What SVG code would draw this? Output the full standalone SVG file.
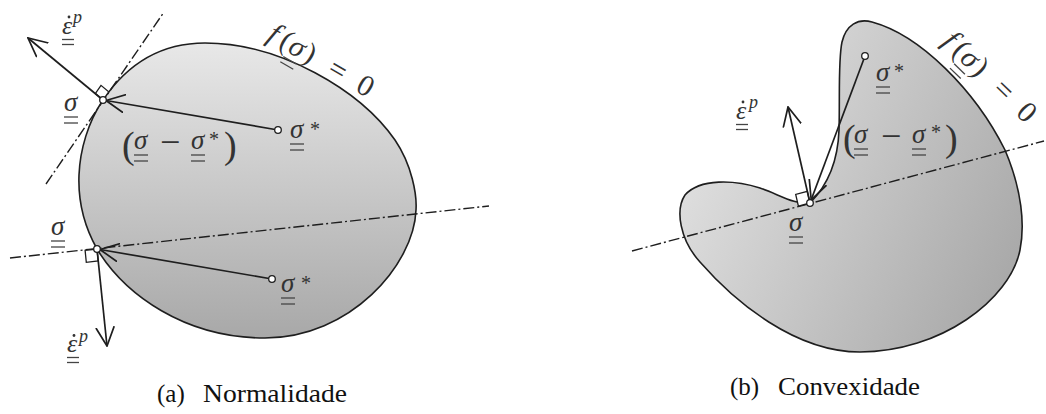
<svg xmlns="http://www.w3.org/2000/svg" width="1046" height="414" viewBox="0 0 1046 414">
<style>
.blob{stroke:#1e1e1e;stroke-width:1.6}
.dd{fill:none;stroke:#1e1e1e;stroke-width:1.4;stroke-dasharray:11 3 2 3}
.arr{fill:none;stroke:#1e1e1e;stroke-width:1.7;marker-end:url(#ah)}
.pt{fill:#fff;stroke:#1e1e1e;stroke-width:1.3}
.sq{fill:#fff;stroke:#1e1e1e;stroke-width:1.3}
.m{font-family:"Liberation Serif",serif;font-style:italic;font-size:27px;fill:#333}
.r{font-family:"Liberation Serif",serif;font-size:27px;fill:#333}
.e{font-size:26px}
.sm{font-size:18px}
.st{font-size:20px}
.mi{font-size:36px}
.big{font-size:38px}
.fx{font-size:30px}
.bar{stroke:#444;stroke-width:1.3}
.dot{fill:#333}
.cap{font-family:"Liberation Serif",serif;font-size:25px;fill:#111}
</style>
<defs>
<linearGradient id="gA" gradientUnits="userSpaceOnUse" x1="0" y1="43" x2="0" y2="338">
<stop offset="0" stop-color="#e8e8e8"/><stop offset="1" stop-color="#a8a8a8"/>
</linearGradient>
<linearGradient id="gB" gradientUnits="userSpaceOnUse" x1="690" y1="170" x2="1020" y2="330">
<stop offset="0" stop-color="#dedede"/><stop offset="1" stop-color="#a4a4a4"/>
</linearGradient>
<marker id="ah" markerUnits="userSpaceOnUse" viewBox="0 0 20 20" markerWidth="20" markerHeight="20" refX="19" refY="10" orient="auto">
<path d="M0,0.8 L19,10 L0,19.2" fill="none" stroke="#1e1e1e" stroke-width="1.7"/>
</marker>
</defs>

<!-- (a) Normalidade -->
<g id="shapeA">
<path class="blob" fill="url(#gA)" d="M103,100 C130,60 165,43 205,43 C280,43 360,90 395,140 C412,165 417,195 416,210 C414,265 350,338 265,338 C185,338 125,295 97,249 C84,226 78,200 79,175 C80,150 88,122 103,100 Z"/>
</g>
<g id="connectorsA">
<line class="dd" x1="46" y1="184" x2="164" y2="12"/>
<line class="dd" x1="10" y1="258" x2="489" y2="206"/>
<path class="sq" d="M103,100 L108.7,91.75 L101,85.35 L95.3,93.6 Z"/>
<path class="sq" d="M97,249 L85.1,250.3 L86.3,262.3 L98.2,261 Z"/>
<line class="arr" x1="103" y1="100" x2="28" y2="38"/>
<line class="arr" x1="97" y1="249" x2="107" y2="346"/>
<line class="arr" x1="278" y1="130" x2="106" y2="100.5"/>
<line class="arr" x1="272" y1="279" x2="100" y2="249.5"/>
<circle class="pt" cx="103" cy="100" r="3.3"/>
<circle class="pt" cx="97" cy="249" r="3.3"/>
<circle class="pt" cx="278" cy="130" r="3.3"/>
<circle class="pt" cx="272" cy="279" r="3.3"/>
</g>
<g id="labelsA">
<g id="epsA1"><text class="m e" x="62" y="34">ε</text><circle class="dot" cx="69" cy="17" r="1.4"/><text class="m sm" x="73" y="23">p</text><line class="bar" x1="62" y1="39.5" x2="74" y2="39.5"/><line class="bar" x1="62" y1="44.5" x2="74" y2="44.5"/></g>
<g id="epsA2"><text class="m e" x="67" y="352">ε</text><circle class="dot" cx="74" cy="335.5" r="1.4"/><text class="m sm" x="79" y="342">p</text><line class="bar" x1="67" y1="357.5" x2="79" y2="357.5"/><line class="bar" x1="67" y1="362.5" x2="79" y2="362.5"/></g>
<g id="sigA1"><text class="m" x="64" y="111">σ</text><line class="bar" x1="64" y1="117" x2="78" y2="117"/><line class="bar" x1="64" y1="123" x2="78" y2="123"/></g>
<g id="sigA2"><text class="m" x="51" y="235">σ</text><line class="bar" x1="51" y1="241" x2="65" y2="241"/><line class="bar" x1="51" y1="247" x2="65" y2="247"/></g>
<g id="sigStarA1"><text class="m" x="290" y="138">σ</text><text class="r st" x="310" y="136">*</text><line class="bar" x1="290" y1="144" x2="304" y2="144"/><line class="bar" x1="290" y1="150" x2="304" y2="150"/></g>
<g id="sigStarA2"><text class="m" x="281" y="292">σ</text><text class="r st" x="301" y="290">*</text><line class="bar" x1="281" y1="298" x2="295" y2="298"/><line class="bar" x1="281" y1="304" x2="295" y2="304"/></g>
<g id="diffA">
<text class="r big" x="122" y="158">(</text>
<text class="m" x="134" y="149">σ</text><line class="bar" x1="134" y1="155" x2="148" y2="155"/><line class="bar" x1="134" y1="161" x2="148" y2="161"/>
<text class="r mi" x="160" y="154">−</text>
<text class="m" x="191" y="149">σ</text><line class="bar" x1="191" y1="155" x2="205" y2="155"/><line class="bar" x1="191" y1="161" x2="205" y2="161"/>
<text class="r st" x="209" y="146">*</text>
<text class="r big" x="224" y="158">)</text>
</g>
<g id="fA" transform="translate(268,35) rotate(30)" text-anchor="middle">
<text class="m fx" x="4.6" y="5">f</text>
<text class="r fx" x="19" y="5">(</text>
<text class="m fx" x="31.7" y="5">σ</text>
<line class="bar" x1="24" y1="11" x2="39" y2="11"/><line class="bar" x1="24" y1="17" x2="39" y2="17"/>
<text class="r fx" x="46" y="5">)</text>
<text class="r fx" x="78" y="5">=</text>
<text class="r fx" x="110" y="5">0</text>
</g>
</g>
<text id="capA" class="cap"><tspan x="157" y="402">(a)</tspan><tspan x="203" y="402" textLength="144" lengthAdjust="spacingAndGlyphs">Normalidade</tspan></text>

<!-- (b) Convexidade -->
<g id="shapeB">
<path class="blob" fill="url(#gB)" d="M810,203 C828,185 838,160 839,130 C840,100 838,60 842,42 C846,25 858,18 872,22 C920,35 975,90 1005,150 C1022,190 1025,225 1020,250 C1010,300 940,352 860,352 C795,352 735,302 700,262 C680,240 675,210 685,195 C700,178 735,180 760,188 C780,195 795,205 810,203 Z"/>
</g>
<g id="connectorsB">
<line class="dd" x1="632" y1="251" x2="1044" y2="141"/>
<path class="sq" d="M810,203 L807.3,191.3 L795.7,194.4 L798.4,206.1 Z"/>
<line class="arr" x1="810" y1="203" x2="788" y2="107"/>
<line class="arr" x1="865" y1="56" x2="811.2" y2="199.8"/>
<circle class="pt" cx="810" cy="203" r="3.3"/>
<circle class="pt" cx="865" cy="56" r="3.3"/>
</g>
<g id="labelsB">
<g id="epsB"><text class="m e" x="736" y="119">ε</text><circle class="dot" cx="743" cy="102" r="1.4"/><text class="m sm" x="749" y="108">p</text><line class="bar" x1="736" y1="124.5" x2="748" y2="124.5"/><line class="bar" x1="736" y1="129.5" x2="748" y2="129.5"/></g>
<g id="sigB"><text class="m" x="789" y="231">σ</text><line class="bar" x1="789" y1="237" x2="803" y2="237"/><line class="bar" x1="789" y1="243" x2="803" y2="243"/></g>
<g id="sigStarB"><text class="m" x="876" y="81">σ</text><text class="r st" x="894" y="78">*</text><line class="bar" x1="876" y1="87" x2="890" y2="87"/><line class="bar" x1="876" y1="93" x2="890" y2="93"/></g>
<g id="diffB">
<text class="r big" x="843" y="151">(</text>
<text class="m" x="854" y="143">σ</text><line class="bar" x1="854" y1="149" x2="868" y2="149"/><line class="bar" x1="854" y1="155" x2="868" y2="155"/>
<text class="r mi" x="881" y="148">−</text>
<text class="m" x="912" y="143">σ</text><line class="bar" x1="912" y1="149" x2="926" y2="149"/><line class="bar" x1="912" y1="155" x2="926" y2="155"/>
<text class="r st" x="931" y="139">*</text>
<text class="r big" x="945" y="151">)</text>
</g>
<g id="fB" transform="translate(944.5,39.2) rotate(44)" text-anchor="middle">
<text class="m fx" x="4.6" y="5">f</text>
<text class="r fx" x="19" y="5">(</text>
<text class="m fx" x="31.7" y="5">σ</text>
<line class="bar" x1="24" y1="11" x2="39" y2="11"/><line class="bar" x1="24" y1="17" x2="39" y2="17"/>
<text class="r fx" x="46" y="5">)</text>
<text class="r fx" x="78" y="5">=</text>
<text class="r fx" x="110" y="5">0</text>
</g>
</g>
<text id="capB" class="cap"><tspan x="730" y="395">(b)</tspan><tspan x="778" y="395" textLength="142" lengthAdjust="spacingAndGlyphs">Convexidade</tspan></text>
</svg>
